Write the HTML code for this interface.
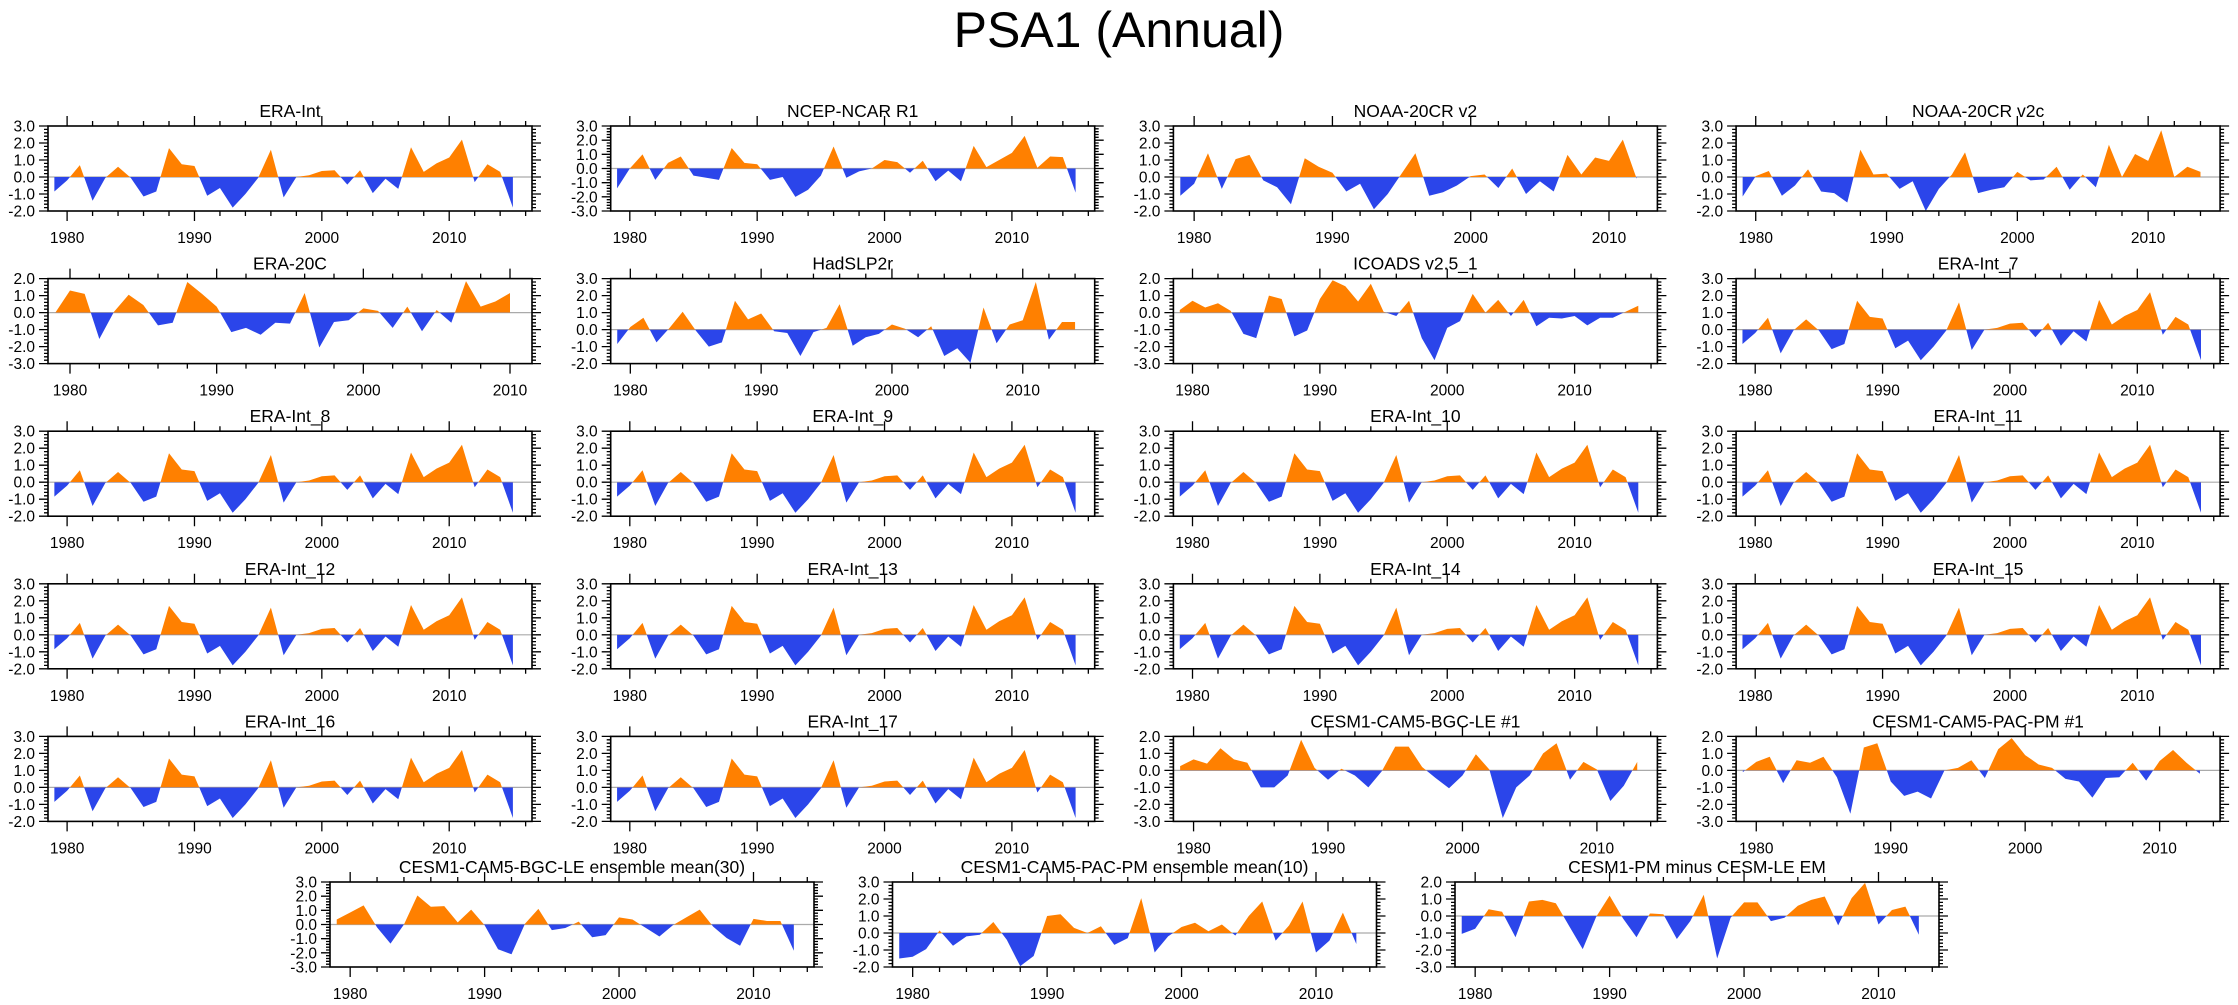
<!DOCTYPE html>
<html><head><meta charset="utf-8"><style>
html,body{margin:0;padding:0;background:#fff;}
svg{display:block;font-family:"Liberation Sans",sans-serif;}
</style></head><body>
<svg id="fig" width="2238" height="1005" viewBox="0 0 2238 1005" xmlns="http://www.w3.org/2000/svg">
<text x="1119" y="47" text-anchor="middle" font-size="50">PSA1 (Annual)</text>
</svg>
<script>
const eraInt = [-0.85,-0.2,0.7,-1.4,-0.05,0.6,-0.05,-1.15,-0.85,1.7,0.75,0.65,-1.1,-0.65,-1.8,-1.0,-0.05,1.6,-1.2,0.0,0.1,0.35,0.4,-0.45,0.4,-0.95,-0.1,-0.7,1.75,0.3,0.8,1.15,2.2,-0.3,0.75,0.3,-1.8];
const ncep = [-1.4,0.0,1.0,-0.8,0.4,0.85,-0.5,-0.65,-0.8,1.45,0.4,0.3,-0.8,-0.6,-2.0,-1.5,-0.5,1.55,-0.65,-0.2,0.0,0.6,0.45,-0.3,0.55,-0.9,-0.15,-0.9,1.6,0.1,0.6,1.1,2.3,0.05,0.85,0.8,-1.7];
const cr20v2 = [-1.1,-0.4,1.4,-0.7,1.05,1.3,-0.2,-0.6,-1.6,1.1,0.6,0.25,-0.85,-0.4,-1.9,-1.0,0.2,1.4,-1.1,-0.9,-0.5,0.05,0.15,-0.65,0.5,-1.0,-0.25,-0.85,1.3,0.15,1.15,0.95,2.2,-0.1];
const cr20v2c = [-1.15,0.05,0.35,-1.1,-0.5,0.45,-0.85,-0.95,-1.5,1.6,0.15,0.2,-0.7,-0.25,-2.0,-0.7,0.15,1.45,-0.95,-0.75,-0.6,0.3,-0.2,-0.15,0.6,-0.75,0.15,-0.6,1.9,0.0,1.35,0.95,2.75,0.0,0.6,0.3];
const era20c = [0.0,1.3,1.1,-1.55,0.05,1.05,0.45,-0.75,-0.6,1.8,1.1,0.35,-1.15,-0.9,-1.3,-0.6,-0.65,1.15,-2.05,-0.55,-0.45,0.25,0.1,-0.9,0.35,-1.1,0.15,-0.6,1.85,0.35,0.65,1.15];
const hadslp = [-0.85,0.15,0.7,-0.75,0.1,1.05,-0.05,-1.0,-0.75,1.7,0.6,0.95,-0.1,-0.2,-1.55,-0.15,0.1,1.5,-0.95,-0.45,-0.25,0.3,0.05,-0.45,0.2,-1.55,-1.1,-1.95,1.3,-0.8,0.3,0.55,2.8,-0.6,0.45,0.45];
const icoads = [0.15,0.7,0.3,0.55,0.1,-1.25,-1.5,1.0,0.8,-1.4,-1.05,0.8,1.9,1.55,0.65,1.7,0.05,-0.2,0.7,-1.5,-2.8,-0.9,-0.5,1.1,0.0,0.75,-0.2,0.75,-0.8,-0.3,-0.35,-0.2,-0.75,-0.3,-0.3,0.05,0.4];
const bgc1 = [0.25,0.65,0.4,1.3,0.65,0.45,-1.0,-1.0,-0.3,1.8,0.15,-0.55,0.1,-0.3,-1.0,-0.05,1.4,1.4,0.2,-0.45,-1.05,-0.3,0.95,0.05,-2.8,-1.0,-0.3,1.0,1.6,-0.55,0.5,0.05,-1.8,-0.9,0.5];
const pac1 = [-0.1,0.5,0.8,-0.75,0.6,0.45,0.8,-0.4,-2.55,1.35,1.6,-0.65,-1.5,-1.25,-1.65,0.0,0.15,0.6,-0.45,1.25,1.9,0.9,0.35,0.15,-0.5,-0.65,-1.6,-0.45,-0.4,0.45,-0.6,0.55,1.2,0.45,-0.2];
const ens30 = [0.35,0.85,1.35,-0.2,-1.35,0.0,2.05,1.25,1.3,0.15,1.05,-0.05,-1.75,-2.1,0.05,1.1,-0.4,-0.25,0.2,-0.9,-0.75,0.5,0.35,-0.25,-0.85,-0.05,0.5,1.05,-0.15,-0.95,-1.5,0.4,0.25,0.25,-1.85];
const ens10 = [-1.5,-1.4,-0.95,0.15,-0.75,-0.2,-0.1,0.65,-0.4,-1.95,-1.35,1.0,1.1,0.3,0.0,0.4,-0.7,-0.3,2.05,-1.15,-0.2,0.35,0.6,0.1,0.5,-0.15,1.0,1.85,-0.45,0.45,1.85,-1.15,-0.45,1.2,-0.65];
const pmMinusLe = [-1.05,-0.75,0.4,0.25,-1.25,0.85,0.95,0.75,-0.6,-1.95,-0.05,1.2,-0.15,-1.25,0.15,0.1,-1.35,-0.3,1.25,-2.5,-0.1,0.8,0.8,-0.3,-0.1,0.6,0.95,1.15,-0.55,1.05,1.95,-0.5,0.35,0.55,-1.1];
const startYear = 1979;
const panelTitles = ["ERA-Int","NCEP-NCAR R1","NOAA-20CR v2","NOAA-20CR v2c","ERA-20C","HadSLP2r","ICOADS v2.5_1","ERA-Int_7","ERA-Int_8","ERA-Int_9","ERA-Int_10","ERA-Int_11","ERA-Int_12","ERA-Int_13","ERA-Int_14","ERA-Int_15","ERA-Int_16","ERA-Int_17","CESM1-CAM5-BGC-LE #1","CESM1-CAM5-PAC-PM #1","CESM1-CAM5-BGC-LE ensemble mean(30)","CESM1-CAM5-PAC-PM ensemble mean(10)","CESM1-PM minus CESM-LE EM"];
const panelSeries = [eraInt,ncep,cr20v2,cr20v2c,era20c,hadslp,icoads,eraInt,eraInt,eraInt,eraInt,eraInt,eraInt,eraInt,eraInt,eraInt,eraInt,eraInt,bgc1,pac1,ens30,ens10,pmMinusLe];
const panelYMin = [-2,-3,-2,-2,-3,-2,-3,-2,-2,-2,-2,-2,-2,-2,-2,-2,-2,-2,-3,-3,-3,-2,-3];
const panelYMax = [3,3,3,3,2,3,2,3,3,3,3,3,3,3,3,3,3,3,2,2,3,3,2];

const NS = "http://www.w3.org/2000/svg";
const svg = document.getElementById('fig');
function mk(tag, attrs, parent){const e=document.createElementNS(NS,tag);for(const k in attrs)e.setAttribute(k,attrs[k]);(parent||svg).appendChild(e);return e;}
const W=484,H=85;
function panelPos(i){
  if(i<20){const c=i%4,r=Math.floor(i/4);return [48+c*562.7,126+r*152.6];}
  const c=i-20;return [330+c*562.5,882];
}
panelSeries.forEach((data,i)=>{
  const [L,T]=panelPos(i);
  const ymin=panelYMin[i],ymax=panelYMax[i];
  const x0=startYear-0.5,x1=startYear+data.length-1+1.5;
  const sx=v=>L+(v-x0)/(x1-x0)*W;
  const sy=v=>T+(ymax-v)/(ymax-ymin)*H;
  const g=mk('g',{});
  
  
  const t=mk('text',{x:L+W/2,y:T-9,'text-anchor':'middle','font-size':'17.5'},g);
  t.textContent=panelTitles[i];
  
  
  const z=sy(0);
  let d='M'+sx(startYear)+','+z;
  data.forEach((v,k)=>{d+=' L'+sx(startYear+k)+','+sy(v);});
  d+=' L'+sx(startYear+data.length-1)+','+z+' Z';
  const cu='cu'+i,cl='cl'+i;
  const cp1=mk('clipPath',{id:cu},g);mk('rect',{x:L,y:T,width:W,height:z-T},cp1);
  const cp2=mk('clipPath',{id:cl},g);mk('rect',{x:L,y:z,width:W,height:T+H-z},cp2);
  const zl=mk('line',{x1:L,x2:L+W,y1:z,y2:z,stroke:'#aaa','stroke-width':1.2},g);
  
  
  const pa=mk('path',{d:d,fill:'#ff8000','clip-path':'url(#'+cu+')'},g);
  
  
  const pb=mk('path',{d:d,fill:'#2b45ea','clip-path':'url(#'+cl+')'},g);
  
  
  let tk='';
  for(let v=ymin;v<=ymax+1e-6;v=Math.round((v+0.2)*10)/10){
    const y=sy(v);const major=Math.abs(v-Math.round(v))<1e-6;const len=major?9:4;
    tk+='M'+(L-len)+','+y+'H'+L+'M'+(L+W)+','+y+'h'+len;
    if(major){const yl=mk('text',{x:L-13,y:y+5.5,'text-anchor':'end','font-size':'15.5'},g);yl.textContent=v.toFixed(1);
      
      }
  }
  for(let yr=Math.ceil(x0/2)*2;yr<=x1;yr+=2){
    const x=sx(yr);const major=yr%10===0;const len=major?10:5;
    tk+='M'+x+','+(T-len)+'V'+T+'M'+x+','+(T+H)+'v'+len;
    if(major){const xl=mk('text',{x:x,y:T+H+32,'text-anchor':'middle','font-size':'15.5'},g);xl.textContent=yr;
      
      }
  }
  const ticks=mk('path',{d:tk,stroke:'#000','stroke-width':1.3,fill:'none'},g);
  
  
  const box=mk('rect',{x:L,y:T,width:W,height:H,fill:'none',stroke:'#000','stroke-width':1.6},g);
  
  
});
</script>
</body></html>
